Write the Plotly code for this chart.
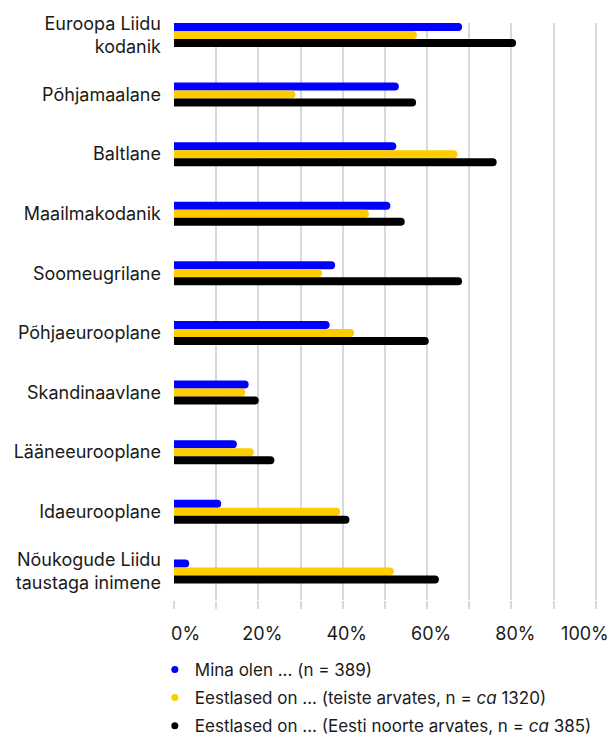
import plotly.graph_objects as go

categories = [
    "Euroopa Liidu<br>kodanik",
    "Põhjamaalane",
    "Baltlane",
    "Maailmakodanik",
    "Soomeugrilane",
    "Põhjaeurooplane",
    "Skandinaavlane",
    "Lääneeurooplane",
    "Idaeurooplane",
    "Nõukogude Liidu<br>taustaga inimene",
]

mina_olen = [0.683, 0.533, 0.527, 0.513, 0.382, 0.369, 0.177, 0.149, 0.112, 0.036]
teiste_arvates = [0.576, 0.288, 0.672, 0.462, 0.351, 0.427, 0.169, 0.189, 0.394, 0.521]
noorte_arvates = [0.811, 0.574, 0.765, 0.547, 0.683, 0.604, 0.201, 0.238, 0.416, 0.628]

series_names = [
    "Mina olen ... (n = 389)",
    "Eestlased on ... (teiste arvates, n = <i>ca</i> 1320)",
    "Eestlased on ... (Eesti noorte arvates, n = <i>ca</i> 385)",
]
series_values = [mina_olen, teiste_arvates, noorte_arvates]
series_colors = ["#0000FF", "#FFCC00", "#000000"]

tick_vals = [0, 0.2, 0.4, 0.6, 0.8]
NB = "\u00a0"
tick_text = [NB * 3 + "0%", "20%", "40%", "60%", "80%"]
end_tick_vals = [1.0]
end_tick_text = ["100%"]

FONT = "Inter"
TEXT = "#1a1a1a"
GRID = "#d9d9d9"
X_RANGE = [0, 1.01]

fig = go.Figure()

for name, vals, color in zip(series_names, series_values, series_colors):
    fig.add_trace(go.Bar(
        x=vals, y=categories, orientation="h", name=name,
        marker=dict(color=color, line=dict(width=0), cornerradius=4),
        showlegend=False, hoverinfo="x+y",
    ))

# round legend markers, one group each so the rows can be spaced out
for i, (name, color) in enumerate(zip(series_names, series_colors)):
    fig.add_trace(go.Scatter(
        x=[None], y=[None], mode="markers", name=name, legendgroup=f"g{i}",
        marker=dict(color=color, size=7, symbol="circle"),
        showlegend=True,
    ))

# empty trace that keeps the overlay axis for the 100% label alive
fig.add_trace(go.Scatter(x=[None], y=[None], xaxis="x2", yaxis="y",
                         mode="markers", showlegend=False, hoverinfo="skip"))

grid_style = dict(showgrid=True, gridcolor=GRID, gridwidth=1.5,
                  ticks="outside", ticklen=8, tickcolor=GRID, tickwidth=1.5)

fig.update_layout(
    width=611, height=735,
    margin=dict(l=174, r=11, t=23, b=135, autoexpand=False),
    paper_bgcolor="white", plot_bgcolor="white",
    font=dict(family=FONT, size=18, color=TEXT),
    barmode="group", bargap=0.597, bargroupgap=0,
    showlegend=True,
    legend=dict(
        orientation="v", x=-0.045, xanchor="left", y=-0.09, yanchor="top",
        font=dict(family=FONT, size=17, color=TEXT),
        itemwidth=30, tracegroupgap=3, bgcolor="rgba(0,0,0,0)",
    ),
    xaxis=dict(
        range=X_RANGE, tickvals=tick_vals + end_tick_vals,
        ticktext=tick_text + [""],
        ticklabelstandoff=9, ticklabelshift=4,
        minor=dict(dtick=0.1, tick0=0, **grid_style),
        zeroline=False, showline=False,
        tickfont=dict(family=FONT, size=18, color=TEXT),
        **grid_style,
    ),
    # the 100% label sits left of its tick so it stays inside the chart
    xaxis2=dict(
        overlaying="x", side="bottom", anchor="y",
        range=X_RANGE, tickvals=end_tick_vals, ticktext=end_tick_text,
        ticklabelposition="outside left", ticklabelshift=13,
        ticklabeloverflow="allow",
        ticks="", ticklabelstandoff=21, showgrid=False,
        zeroline=False, showline=False,
        tickfont=dict(family=FONT, size=18, color=TEXT),
    ),
    yaxis=dict(
        type="category", categoryorder="array", categoryarray=categories,
        range=[9.48, -0.2], showgrid=False, zeroline=False, showline=False,
        ticks="", ticklabelstandoff=12,
        tickfont=dict(family=FONT, size=18, color=TEXT),
    ),
)

fig.write_html("out.html")
